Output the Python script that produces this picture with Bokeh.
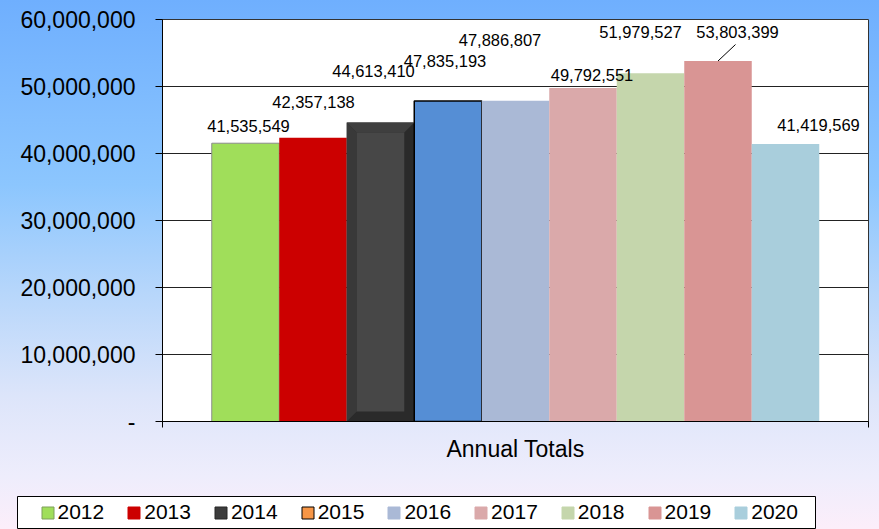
from bokeh.plotting import figure
from bokeh.models import (ColumnDataSource, Range1d, FixedTicker, CustomJSTickFormatter,
                          Legend, LegendItem)
from bokeh.embed import file_html
from bokeh.resources import INLINE

# ---------------- data ----------------
years = ["2012", "2013", "2014", "2015", "2016", "2017", "2018", "2019", "2020"]
totals = [41535549, 42357138, 44613410, 47835193, 47886807,
          49792551, 51979527, 53803399, 41419569]
category_label = "Annual Totals"
y_ticks = [0, 10000000, 20000000, 30000000, 40000000, 50000000, 60000000]

# ---------------- styles ----------------
bar_colors = ["#A0DE5A", "#CC0000", "#2A2A2A", "#558ED5", "#AAB9D6",
              "#DAA9AA", "#C5D6AC", "#D99594", "#A9CEDC"]
bar_line_colors = ["#8C8C8C", "#CC0000", "#2A2A2A", "#000000", "#AAB9D6",
                   "#DAA9AA", "#C5D6AC", "#D99594", "#A9CEDC"]
bar_line_alphas = [1, 0, 0, 1, 0, 0, 0, 0, 0]
bar_line_widths = [1, 1, 1, 1.5, 1, 1, 1, 1, 1]
legend_colors = ["#A0DE5A", "#CC0000", "#3C3C3C", "#F79646", "#AAB9D6",
                 "#DAA9AA", "#C5D6AC", "#D99594", "#A9CEDC"]
legend_line_colors = ["#7F9F5A", "#CC0000", "#262626", "#000000", "#AAB9D6",
                      "#DAA9AA", "#C5D6AC", "#D99594", "#A9CEDC"]
# label placement offsets in screen pixels (dx right, dy up from bar top)
label_dx_px = [3, 0.5, -7, -3, -15.5, 9, -10, 19.5, 33]
label_dy_px = [17, 36, 52, 40.5, 61, 12.4, 41, 29, 18.5]
leader_flags = [0, 0, 0, 0, 0, 0, 0, 1, 0]

FONT = "Liberation Sans"
W = 879
H_MAIN, H_LEG = 480, 49
ML, MR, MT, MB = 162, 11, 19, 59
FRAME_W = W - ML - MR
FRAME_H = H_MAIN - MT - MB
Y_MAX = 60000000
PX_X = 1.0 / FRAME_W
PX_Y = Y_MAX / FRAME_H
BAR_W = 67.5 * PX_X

GRAD_MAIN = ("linear-gradient(to bottom, #6FAFFE 0px, #8CC6FE 185px, #B6D6FB 291px, "
             "#DDE5FA 397px, #EEEDFC 476px, #FCEEFA 529px)")
GRAD_LEG = "linear-gradient(to bottom, #EEEDFC -4px, #FCEEFA 49px)"

n = len(years)
xs = [0.5 + (i - (n - 1) / 2) * BAR_W for i in range(n)]

p = figure(width=W, height=H_MAIN, x_range=Range1d(0, 1), y_range=Range1d(0, Y_MAX),
           output_backend="svg", toolbar_location=None,
           min_border_left=ML, min_border_right=MR, min_border_top=MT, min_border_bottom=MB)
p.border_fill_color = None
p.styles = {"background": GRAD_MAIN}
p.background_fill_color = "white"
p.outline_line_color = "#333333"
p.outline_line_width = 1

src = ColumnDataSource(dict(x=xs, top=totals, color=bar_colors, lc=bar_line_colors,
                            la=bar_line_alphas, lw=bar_line_widths, year=years))
bars = p.vbar(x="x", top="top", bottom=0, width=BAR_W, source=src,
              fill_color="color", line_color="lc", line_alpha="la", line_width="lw")

# bevel on the 2014 bar
bi = years.index("2014")
bx, bv = xs[bi], totals[bi]
dx, dy = 10 * PX_X, 10 * PX_Y
xl, xr = bx - BAR_W / 2, bx + BAR_W / 2
p.patch([xl, xl, xl + dx, xl + dx], [0, bv, bv - dy, dy], fill_color="#393939", line_alpha=0)
p.patch([xl, xr, xr - dx, xl + dx], [bv, bv, bv - dy, bv - dy], fill_color="#3F3F3F", line_alpha=0)
p.quad(left=[xl + dx], right=[xr - dx], bottom=[dy], top=[bv - dy], fill_color="#474747", line_alpha=0)

# data labels
lx = [xs[i] + label_dx_px[i] * PX_X for i in range(n)]
ly = [totals[i] + label_dy_px[i] * PX_Y for i in range(n)]
labels = ["{:,}".format(v) for v in totals]
p.text(x=lx, y=ly, text=labels, text_align="center", text_baseline="middle",
       text_font={"value": FONT}, text_font_size="16.5px", text_color="#000000")

# leader line(s)
for i in range(n):
    if leader_flags[i]:
        p.segment(x0=[xs[i]], y0=[totals[i]], x1=[lx[i] - 2 * PX_X], y1=[ly[i] - 12.5 * PX_Y],
                  line_color="black", line_width=1)

# axes
p.yaxis.ticker = FixedTicker(ticks=y_ticks)
p.yaxis.formatter = CustomJSTickFormatter(
    code="return tick == 0 ? '-' : Math.round(tick).toLocaleString('en-US');")
p.yaxis.major_label_text_font = FONT
p.yaxis.major_label_text_font_size = "23px"
p.yaxis.major_label_text_color = "black"
p.yaxis.major_tick_out = 7
p.yaxis.major_tick_in = 0
p.yaxis.minor_tick_out = 0
p.yaxis.minor_tick_in = 0
p.yaxis.major_label_standoff = 20
p.yaxis.axis_line_color = "black"
p.yaxis.major_tick_line_color = "black"

p.xaxis.ticker = FixedTicker(ticks=[0.5], minor_ticks=[0, 1])
p.xaxis.major_label_overrides = {0.5: category_label}
p.xaxis.major_label_text_font = FONT
p.xaxis.major_label_text_font_size = "23px"
p.xaxis.major_label_text_color = "black"
p.xaxis.major_tick_out = 0
p.xaxis.major_tick_in = 0
p.xaxis.minor_tick_out = 6
p.xaxis.minor_tick_in = 0
p.xaxis.minor_tick_line_color = "black"
p.xaxis.major_label_standoff = 8
p.xaxis.axis_line_color = "black"

p.xgrid.grid_line_color = None
p.ygrid.ticker = FixedTicker(ticks=y_ticks)
p.ygrid.grid_line_color = "#222222"
p.ygrid.grid_line_width = 1

# ---------------- legend strip (separate root, pixel coordinates) ----------------
LEG_BOX = dict(left=17, right=815, top=33, bottom=1)
lf = figure(width=W, height=H_LEG, x_range=Range1d(0, W), y_range=Range1d(0, H_LEG),
            x_axis_type=None, y_axis_type=None,
            output_backend="svg", toolbar_location=None,
            min_border_left=0, min_border_right=0, min_border_top=0, min_border_bottom=0)
lf.outline_line_color = None
lf.border_fill_color = None
lf.background_fill_color = None
lf.styles = {"background": GRAD_LEG}
lf.quad(left=[LEG_BOX["left"]], right=[LEG_BOX["right"]], top=[LEG_BOX["top"]],
        bottom=[LEG_BOX["bottom"]], fill_color="white", line_color="black", line_width=1)

items = []
for i, yr in enumerate(years):
    r = lf.vbar(x=[-100], top=[0], bottom=0, width=1, fill_color=legend_colors[i],
                line_color=legend_line_colors[i], line_width=1)
    items.append(LegendItem(label=yr, renderers=[r]))

legend = Legend(items=items, orientation="horizontal", location=(39.5, 5),
                glyph_width=15, glyph_height=15, label_standoff=3, spacing=22,
                label_height=24, padding=0, margin=0,
                label_text_font=FONT, label_text_font_size="21px", label_text_color="black",
                border_line_color=None, background_fill_alpha=0)
lf.add_layout(legend, "center")

open("out.html", "w").write(file_html([p, lf], INLINE))
